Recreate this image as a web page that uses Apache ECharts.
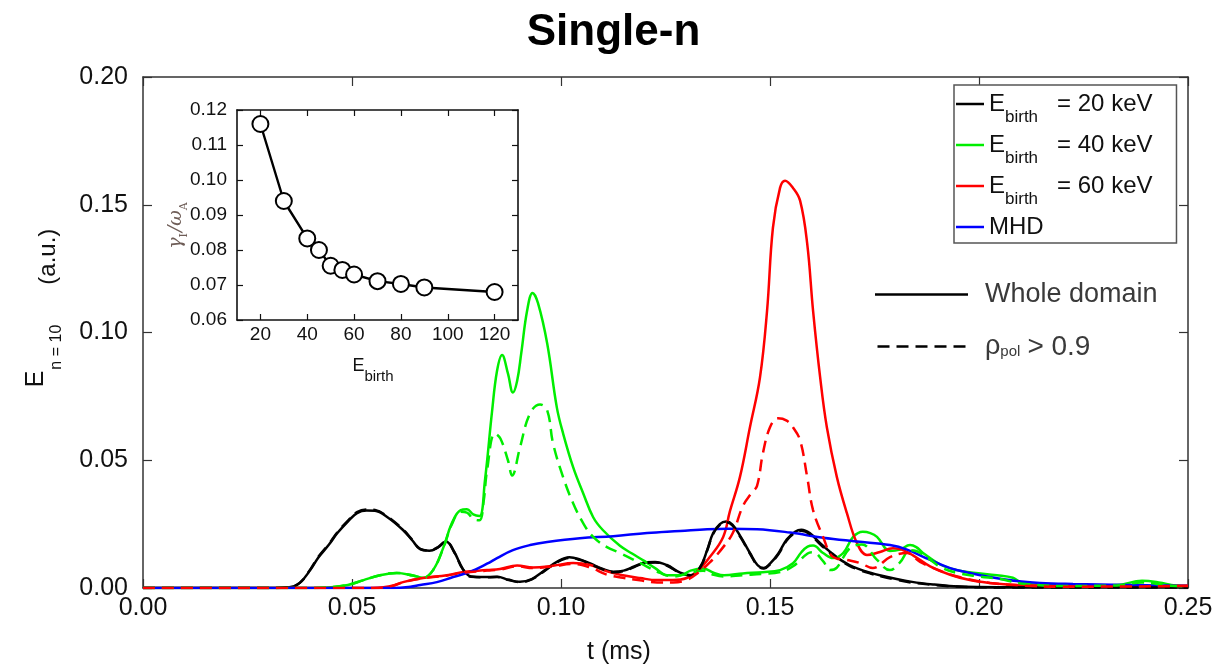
<!DOCTYPE html>
<html><head><meta charset="utf-8">
<script src="https://cdn.jsdelivr.net/npm/echarts@6/dist/echarts.min.js"></script>
<style>html,body{margin:0;padding:0;background:#fff}#c{width:1227px;height:668px}</style>
</head><body><div id="c"></div>
<script>
// ---------- data ----------
const xTickValues = [0, 0.05, 0.10, 0.15, 0.20, 0.25];
const yTickValues = [0, 0.05, 0.10, 0.15, 0.20];

const black_t = [0,0.030,0.035,0.0375,0.040,0.042,0.0445,0.0465,0.049,0.0512,0.0535,0.0555,0.0584,0.0622,0.0645,0.0663,0.0685,0.0705,0.0725,0.0745,0.0765,0.0785,0.0815,0.0847,0.0875,0.0902,0.0930,0.0960,0.0990,0.1020,0.1045,0.1070,0.1100,0.1125,0.1150,0.1175,0.1205,0.1225,0.1253,0.1285,0.1310,0.1333,0.1350,0.1364,0.1380,0.1395,0.1410,0.1430,0.1452,0.1470,0.1485,0.1500,0.1520,0.1540,0.1560,0.1575,0.1595,0.1620,0.1645,0.1667,0.1690,0.1710,0.1740,0.1765,0.1800,0.1840,0.1890,0.1940,0.2000,0.2100,0.2300,0.2500];
const black_E = [0,0,0.0003,0.002,0.007,0.012,0.017,0.0215,0.026,0.0293,0.0303,0.0302,0.0278,0.0227,0.0185,0.0152,0.0146,0.0158,0.0182,0.0140,0.0075,0.0045,0.0043,0.0044,0.0032,0.0024,0.0035,0.0068,0.0102,0.0120,0.0112,0.0096,0.0075,0.0064,0.0068,0.0084,0.0101,0.0102,0.0090,0.0060,0.0050,0.0082,0.0150,0.0215,0.0250,0.0260,0.0248,0.0200,0.0137,0.0090,0.0078,0.0095,0.0135,0.0190,0.0220,0.0228,0.0215,0.0175,0.0140,0.0112,0.0090,0.0076,0.0060,0.0049,0.0036,0.0024,0.0014,0.0007,0.0004,0.0003,0.0003,0.0003];
const black_Ed = [0,0,0.0003,0.002,0.0072,0.0123,0.0173,0.0218,0.0263,0.0297,0.0307,0.0305,0.0281,0.0229,0.0187,0.0153,0.0147,0.0159,0.0182,0.0139,0.0074,0.0044,0.0042,0.0043,0.0031,0.0023,0.0034,0.0066,0.0100,0.0118,0.0110,0.0094,0.0073,0.0062,0.0066,0.0082,0.0099,0.0100,0.0088,0.0058,0.0049,0.0080,0.0148,0.0212,0.0247,0.0257,0.0245,0.0197,0.0135,0.0088,0.0076,0.0093,0.0132,0.0186,0.0216,0.0224,0.0211,0.0171,0.0136,0.0109,0.0087,0.0073,0.0057,0.0046,0.0033,0.0021,0.0012,0.0006,0.0003,0.0002,0.0002,0.0002];

const green_t = [0,0.040,0.045,0.049,0.0526,0.0567,0.0607,0.0646,0.0670,0.0694,0.0718,0.0739,0.0760,0.0775,0.0790,0.0805,0.0818,0.0835,0.0847,0.0859,0.0873,0.0885,0.0895,0.0905,0.0919,0.0932,0.0945,0.0967,0.0990,0.1005,0.1029,0.1053,0.1077,0.1100,0.1141,0.1170,0.1200,0.1225,0.1254,0.1285,0.1310,0.1340,0.1365,0.1390,0.1435,0.1483,0.1524,0.1555,0.1575,0.1590,0.1603,0.1627,0.1651,0.1675,0.1699,0.1722,0.1740,0.1756,0.1787,0.1811,0.1835,0.1850,0.1866,0.1907,0.1947,0.1986,0.2043,0.2081,0.2100,0.2150,0.2250,0.2330,0.2390,0.2430,0.2470,0.2500];
const green_E = [0,0,0.0003,0.0012,0.0030,0.0050,0.0059,0.0049,0.0040,0.0070,0.0156,0.0254,0.0305,0.0308,0.0288,0.0282,0.0420,0.0690,0.0850,0.0912,0.0840,0.0765,0.0810,0.0920,0.1086,0.1155,0.1115,0.0957,0.0707,0.0605,0.0473,0.0371,0.0277,0.0227,0.0165,0.0135,0.0105,0.0078,0.0050,0.0050,0.0068,0.0076,0.0060,0.0050,0.0057,0.0062,0.0070,0.0097,0.0140,0.0162,0.0166,0.0137,0.0117,0.0137,0.0200,0.0220,0.0215,0.0200,0.0145,0.0150,0.0168,0.0160,0.0137,0.0092,0.0070,0.0060,0.0050,0.0040,0.0022,0.0012,0.0010,0.0012,0.0028,0.0022,0.0010,0.0008];
const greenD_t = [0,0.040,0.045,0.049,0.0526,0.0567,0.0607,0.0646,0.0670,0.0694,0.0718,0.0739,0.0760,0.0775,0.0790,0.0805,0.0815,0.0823,0.0842,0.0855,0.0873,0.0883,0.0902,0.0926,0.0950,0.0967,0.0981,0.1005,0.1029,0.1053,0.1077,0.1110,0.1141,0.1189,0.1237,0.1270,0.1300,0.1340,0.1365,0.1390,0.1435,0.1483,0.1524,0.1555,0.1590,0.1603,0.1627,0.1644,0.1660,0.1691,0.1720,0.1756,0.1787,0.1811,0.1835,0.1850,0.1880,0.1910,0.1950,0.2000,0.2050,0.2100,0.2200,0.2330,0.2390,0.2450,0.2500];
const greenD_E = [0,0,0.0003,0.0012,0.0030,0.0050,0.0059,0.0049,0.0040,0.0070,0.0154,0.0250,0.0298,0.0295,0.0270,0.0265,0.0340,0.0460,0.0605,0.0585,0.0500,0.0440,0.0551,0.0684,0.0718,0.0695,0.0566,0.0434,0.0332,0.0254,0.0200,0.0160,0.0137,0.0098,0.0059,0.0045,0.0055,0.0068,0.0052,0.0045,0.0050,0.0055,0.0062,0.0085,0.0135,0.0140,0.0105,0.0070,0.0080,0.0156,0.0170,0.0110,0.0070,0.0100,0.0148,0.0145,0.0115,0.0080,0.0058,0.0045,0.0035,0.0018,0.0008,0.0010,0.0022,0.0010,0.0006];

const red_t = [0,0.055,0.0595,0.0622,0.0670,0.0727,0.0766,0.0823,0.0854,0.0895,0.0933,0.0981,0.1029,0.1070,0.1110,0.1148,0.1189,0.1230,0.1268,0.1301,0.1328,0.1356,0.1388,0.1404,0.1428,0.1452,0.1476,0.1493,0.1507,0.1524,0.1536,0.1555,0.1572,0.1589,0.1603,0.1620,0.1636,0.1660,0.1684,0.1708,0.1732,0.1763,0.1794,0.1815,0.1842,0.1883,0.1931,0.1978,0.2026,0.2090,0.2200,0.2400,0.2500];
const red_E = [0,0,0.0008,0.0023,0.0039,0.0050,0.0063,0.0070,0.0074,0.0088,0.0080,0.0087,0.0098,0.0090,0.0065,0.0050,0.0039,0.0031,0.0031,0.0039,0.0068,0.0121,0.0200,0.0300,0.0434,0.0629,0.0824,0.1086,0.1410,0.1566,0.1594,0.1566,0.1516,0.1348,0.1086,0.0824,0.0629,0.0434,0.0293,0.0176,0.0129,0.0141,0.0156,0.0150,0.0128,0.0085,0.0052,0.0031,0.0020,0.0012,0.0008,0.0008,0.0010];
const redD_t = [0,0.055,0.0595,0.0622,0.0670,0.0727,0.0766,0.0823,0.0854,0.0895,0.0933,0.0981,0.1029,0.1070,0.1110,0.1148,0.1189,0.1230,0.1268,0.1301,0.1328,0.1356,0.1388,0.1411,0.1435,0.1455,0.1469,0.1483,0.1500,0.1519,0.1540,0.1555,0.1572,0.1589,0.1603,0.1627,0.1651,0.1684,0.1715,0.1746,0.1787,0.1828,0.1859,0.1914,0.1960,0.2026,0.2100,0.2200,0.2500];
const redD_E = [0,0,0.0008,0.0022,0.0038,0.0049,0.0060,0.0068,0.0072,0.0085,0.0078,0.0085,0.0094,0.0080,0.0052,0.0040,0.0030,0.0022,0.0022,0.0032,0.0060,0.0100,0.0160,0.0215,0.0320,0.0370,0.0400,0.0527,0.0629,0.0664,0.0655,0.0629,0.0578,0.0434,0.0305,0.0200,0.0121,0.0110,0.0098,0.0078,0.0121,0.0137,0.0102,0.0063,0.0040,0.0020,0.0010,0.0005,0.0008];

const mhd_t = [0,0.060,0.0640,0.0663,0.0703,0.0742,0.0782,0.0823,0.0847,0.0885,0.0926,0.0967,0.1045,0.1125,0.1206,0.1285,0.1350,0.1400,0.1469,0.1548,0.1627,0.1708,0.1787,0.1828,0.1883,0.1931,0.1978,0.2026,0.2090,0.2146,0.2225,0.2350,0.2500];
const mhd_E = [0,0,0.0005,0.0012,0.0023,0.0043,0.0063,0.0095,0.0117,0.0148,0.0168,0.0180,0.0195,0.0203,0.0215,0.0223,0.0230,0.0232,0.0230,0.0217,0.0197,0.0182,0.0168,0.0150,0.0110,0.0078,0.0059,0.0043,0.0027,0.0020,0.0016,0.0012,0.0008];

// inset
const inset_Ebirth = [20, 30, 40, 45, 50, 55, 60, 70, 80, 90, 120];
const inset_gamma = [0.116, 0.094, 0.0833, 0.0800, 0.0755, 0.0743, 0.0730, 0.0711, 0.0703, 0.0693, 0.0680];
const insetXTicks = [20, 40, 60, 80, 100, 120];

const legendEnergies = {E20: '20', E40: '40', E60: '60'};

// ---------- build ----------
const zip = (a, b) => a.map((v, i) => [v, b[i]]);
const FF = '"Liberation Sans", Arial, Helvetica, sans-serif';
const DASH = [12, 7];
const LW = 2.5;

function mainLine(name, t, e, color, dashed, z) {
  return {
    type: 'line', name, xAxisIndex: 0, yAxisIndex: 0, data: zip(t, e),
    symbol: 'none', showSymbol: false, smooth: 0.4, z: z,
    lineStyle: {color, width: LW, type: dashed ? DASH : 'solid'},
    itemStyle: {color}, emphasis: {disabled: true}, animation: false
  };
}

const chart = echarts.init(document.getElementById('c'), null, {renderer: 'canvas'});

const mainAxisCommon = {
  type: 'value', gridIndex: 0, splitLine: {show: false},
  axisLine: {show: true, onZero: false, lineStyle: {color: '#333', width: 1.5}},
  axisTick: {show: true, inside: true, length: 9, lineStyle: {color: '#333', width: 1.2}}
};
const insetAxisCommon = {
  type: 'value', gridIndex: 1, splitLine: {show: false},
  axisLine: {show: true, onZero: false, lineStyle: {color: '#111', width: 1.6}},
  axisTick: {show: true, inside: true, length: 6, lineStyle: {color: '#111', width: 1.2}}
};

const solidIcon = 'path://M0,0 H93 V2.5 H0 Z';
const dashedIcon = 'path://M0,0 H12 V2.5 H0 Z M19,0 H31 V2.5 H19 Z M38,0 H50 V2.5 H38 Z M57,0 H69 V2.5 H57 Z M76,0 H88 V2.5 H76 Z';

const option = {
  backgroundColor: '#fff',
  animation: false,
  title: {
    text: 'Single-n', left: 'center', top: 6,
    textStyle: {fontSize: 44, fontWeight: 'bold', fontFamily: FF, color: '#000'}
  },
  grid: [
    {left: 143, top: 77, right: 39, bottom: 80, containLabel: false},
    {left: 237, top: 110, width: 281, height: 210, show: true, backgroundColor: '#fff', borderWidth: 0, z: 5}
  ],
  xAxis: [
    Object.assign({}, mainAxisCommon, {
      min: 0, max: 0.25, interval: 0.05, position: 'bottom',
      axisLabel: {margin: 8, fontSize: 25, color: '#111', fontFamily: FF, formatter: v => v.toFixed(2)}
    }),
    Object.assign({}, mainAxisCommon, {
      min: 0, max: 0.25, interval: 0.05, position: 'top', axisLabel: {show: false}
    }),
    Object.assign({}, insetAxisCommon, {
      min: 10, max: 130, position: 'bottom', z: 6,
      axisTick: Object.assign({}, insetAxisCommon.axisTick, {customValues: insetXTicks}),
      axisLabel: {customValues: insetXTicks, margin: 5, fontSize: 19, color: '#111', fontFamily: FF}
    }),
    Object.assign({}, insetAxisCommon, {
      min: 10, max: 130, position: 'top', z: 6,
      axisTick: Object.assign({}, insetAxisCommon.axisTick, {customValues: insetXTicks}),
      axisLabel: {show: false}
    })
  ],
  yAxis: [
    Object.assign({}, mainAxisCommon, {
      min: 0, max: 0.2, interval: 0.05, position: 'left',
      axisLabel: {margin: 15, fontSize: 25, color: '#111', fontFamily: FF, formatter: v => v.toFixed(2)}
    }),
    Object.assign({}, mainAxisCommon, {
      min: 0, max: 0.2, interval: 0.05, position: 'right', axisLabel: {show: false}
    }),
    Object.assign({}, insetAxisCommon, {
      min: 0.06, max: 0.12, interval: 0.01, position: 'left', z: 6,
      axisLabel: {margin: 10, fontSize: 19, color: '#111', fontFamily: FF, formatter: v => v.toFixed(2)}
    }),
    Object.assign({}, insetAxisCommon, {
      min: 0.06, max: 0.12, interval: 0.01, position: 'right', z: 6, axisLabel: {show: false}
    })
  ],
  legend: [
    {
      data: ['E20', 'E40', 'E60', 'MHD'].map(n => ({name: n, icon: 'path://M0,0 H28 V2.5 H0 Z'})),
      orient: 'vertical', left: 954, top: 85,
      itemWidth: 28, itemHeight: 2.5, itemGap: 7, padding: [7, 24, 4, 2],
      borderColor: '#555', borderWidth: 1.5, backgroundColor: '#fff', selectedMode: false,
      formatter: name => name === 'MHD' ? '{a|MHD}' : '{a|E}{s|birth}{b|= ' + legendEnergies[name] + ' keV}',
      textStyle: {
        fontFamily: FF, color: '#111',
        rich: {
          a: {fontSize: 24, lineHeight: 24, verticalAlign: 'top', fontFamily: FF, color: '#111'},
          s: {fontSize: 17, lineHeight: 17, verticalAlign: 'top', padding: [17, 0, 0, 0], fontFamily: FF, color: '#111'},
          b: {fontSize: 24, lineHeight: 24, verticalAlign: 'top', padding: [0, 0, 0, 19], fontFamily: FF, color: '#111'}
        }
      }
    },
    {
      data: [{name: 'whole', icon: solidIcon}, {name: 'rho', icon: dashedIcon}],
      orient: 'vertical', left: 875, top: 281,
      itemWidth: 93, itemHeight: 2.5, itemGap: 25, padding: 0, selectedMode: false,
      formatter: name => name === 'whole' ? '{w|Whole domain}' : '{r|ρ}{p|pol}{w2|> 0.9}',
      textStyle: {
        fontFamily: FF, color: '#3a3a3a',
        rich: {
          w: {fontSize: 27, lineHeight: 27, verticalAlign: 'top', padding: [0, 0, 0, 12], fontFamily: FF, color: '#3a3a3a'},
          r: {fontSize: 27, lineHeight: 27, verticalAlign: 'top', padding: [0, 0, 0, 12], fontFamily: FF, color: '#3a3a3a'},
          p: {fontSize: 15, lineHeight: 15, verticalAlign: 'top', padding: [11, 7, 0, 0], fontFamily: FF, color: '#3a3a3a'},
          w2: {fontSize: 28, lineHeight: 27, verticalAlign: 'top', fontFamily: FF, color: '#3a3a3a'}
        }
      }
    }
  ],
  series: [
    mainLine('E20', black_t, black_E, '#000000', false, 2),
    mainLine('E40', green_t, green_E, '#00ee00', false, 2),
    mainLine('E60', red_t, red_E, '#ff0000', false, 2),
    mainLine('MHD', mhd_t, mhd_E, '#0000ff', false, 3),
    mainLine('E20d', black_t, black_Ed, '#000000', true, 3),
    mainLine('E40d', greenD_t, greenD_E, '#00ee00', true, 3),
    mainLine('E60d', redD_t, redD_E, '#ff0000', true, 4),
    {type: 'line', name: 'whole', xAxisIndex: 0, yAxisIndex: 0, data: [], symbol: 'none',
      lineStyle: {color: '#000', width: 2}, itemStyle: {color: '#000'}},
    {type: 'line', name: 'rho', xAxisIndex: 0, yAxisIndex: 0, data: [], symbol: 'none',
      lineStyle: {color: '#000', width: 2.5, type: DASH}, itemStyle: {color: '#000'}},
    {
      type: 'line', name: 'inset', xAxisIndex: 2, yAxisIndex: 2, z: 10,
      data: zip(inset_Ebirth, inset_gamma),
      symbol: 'emptyCircle', symbolSize: 16,
      lineStyle: {color: '#000', width: 2.4}, itemStyle: {color: '#000', borderColor: '#000', borderWidth: 2.4},
      emphasis: {disabled: true}
    }
  ],
  graphic: [
    {
      type: 'text', x: 36, y: 308, rotation: Math.PI / 2, z: 100,
      style: {
        text: '{e|E}{s|n = 10}{u|(a.u.)}', align: 'center', verticalAlign: 'middle', fill: '#111',
        rich: {
          e: {fontSize: 25, lineHeight: 25, verticalAlign: 'top', fontFamily: FF, fill: '#111'},
          s: {fontSize: 16, lineHeight: 16, verticalAlign: 'top', padding: [25, 0, 0, 1], fontFamily: FF, fill: '#111'},
          u: {fontSize: 24, lineHeight: 24, verticalAlign: 'top', padding: [13, 0, 0, 40], fontFamily: FF, fill: '#111'}
        }
      }
    },
    {
      type: 'text', x: 619, y: 652, z: 100,
      style: {text: 't (ms)', fontSize: 25, fontFamily: FF, fill: '#111', align: 'center', verticalAlign: 'middle'}
    },
    {
      type: 'text', x: 373, y: 366, z: 100,
      style: {
        text: '{e|E}{s|birth}', align: 'center', verticalAlign: 'middle', fill: '#111',
        rich: {
          e: {fontSize: 18, lineHeight: 18, verticalAlign: 'top', fontFamily: FF, fill: '#111'},
          s: {fontSize: 15, lineHeight: 15, verticalAlign: 'top', padding: [12, 0, 0, 0], fontFamily: FF, fill: '#111'}
        }
      }
    },
    {
      type: 'text', x: 176, y: 225, rotation: Math.PI / 2, z: 100,
      style: {
        text: '{g|γ}{s|I}{g|/ω}{s|A}', align: 'center', verticalAlign: 'middle', fill: '#6e5d57',
        rich: {
          g: {fontSize: 19, lineHeight: 19, verticalAlign: 'top', fontFamily: '"DejaVu Serif", serif', fontStyle: 'italic', fill: '#6e5d57'},
          s: {fontSize: 11, lineHeight: 11, verticalAlign: 'top', padding: [12, 1, 0, 0], fontFamily: '"DejaVu Serif", serif', fill: '#6e5d57'}
        }
      }
    }
  ]
};
chart.setOption(option);
</script>
</body></html>
